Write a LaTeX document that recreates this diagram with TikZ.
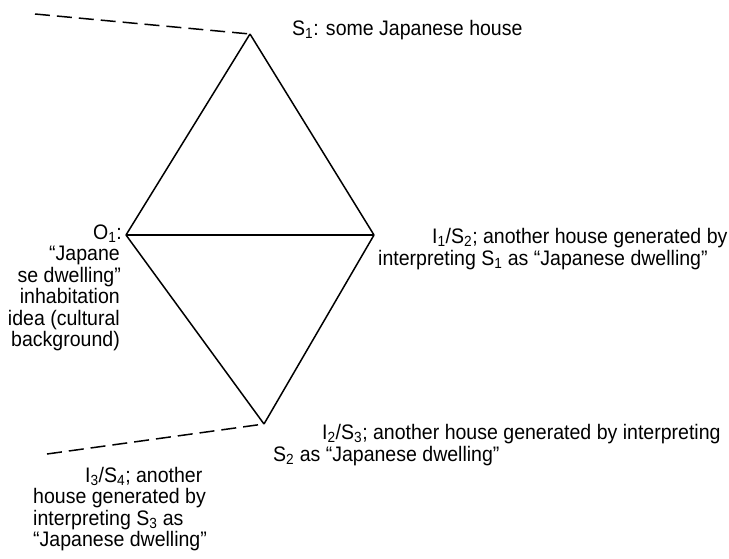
\documentclass[tikz,border=0pt]{standalone}
\usepackage{fontspec}
\setmainfont{Liberation Sans}[FakeStretch=0.93]
\newcommand\lowsub[1]{\textsubscript{#1}}
\begin{document}
\begin{tikzpicture}[x=1pt,y=-1pt,
  edge/.style={line width=1.5pt, black, line join=miter},
  dashline/.style={line width=1.5pt, black, dash pattern=on 15pt off 7pt},
  lbl/.style={inner sep=0pt, font=\fontsize{21}{21.5}\selectfont}]
\useasboundingbox (0,0) rectangle (729,558);
% vertices
\coordinate (S1) at (250,34);
\coordinate (O1) at (126,235);
\coordinate (I1) at (374,235);
\coordinate (I2) at (264,424);
\coordinate (D1) at (35,14);
\coordinate (D2) at (47,454);
% edges
\draw[edge] (S1) -- (O1);
\draw[edge] (S1) -- (I1);
\draw[edge] (O1) -- (I1);
\draw[edge] (O1) -- (I2);
\draw[edge] (I1) -- (I2);
\draw[dashline] (D1) -- (S1);
\draw[dashline] (D2) -- (I2);
% labels
\node[lbl, anchor=base west] (tS1) at (292,35) {S\lowsub{1}: some Japanese house};
\node[lbl, anchor=base west] (tI1a) at (432,243) {I\lowsub{1}/S\lowsub{2}; another house generated by};
\node[lbl, anchor=base west] (tI1b) at (378,265) {interpreting S\lowsub{1} as “Japanese dwelling”};
\node[lbl, anchor=base west] (tI2a) at (322,439) {I\lowsub{2}/S\lowsub{3}; another house generated by interpreting};
\node[lbl, anchor=base west] (tI2b) at (273,461) {S\lowsub{2} as “Japanese dwelling”};
\node[lbl, anchor=base west] (tI3a) at (85,482) {I\lowsub{3}/S\lowsub{4}; another};
\node[lbl, anchor=base west] (tI3b) at (33,503.5) {house generated by};
\node[lbl, anchor=base west] (tI3c) at (33,525) {interpreting S\lowsub{3} as};
\node[lbl, anchor=base west] (tI3d) at (33,546.5) {“Japanese dwelling”};
\node[lbl, anchor=base east] (tO1a) at (122,239) {O\lowsub{1}:};
\node[lbl, anchor=base east] (tO1b) at (120,260.5) {“Japane};
\node[lbl, anchor=base east] (tO1c) at (121,282) {se dwelling”};
\node[lbl, anchor=base east] (tO1d) at (120,303.5) {inhabitation};
\node[lbl, anchor=base east] (tO1e) at (120,325) {idea (cultural};
\node[lbl, anchor=base east] (tO1f) at (120,346.5) {background)};
\end{tikzpicture}
\end{document}
